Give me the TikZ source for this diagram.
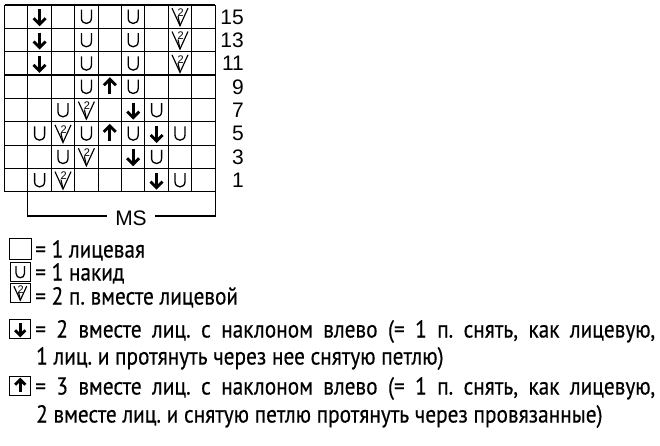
\documentclass[tikz,border=0pt]{standalone}
\usepackage{fontspec}
\setmainfont{Liberation Sans}
\newfontfamily\legfont[FakeStretch=0.87,FakeBold=0.4]{PT Sans}
\begin{document}
\frenchspacing
\begin{tikzpicture}[x=1pt,y=-1pt,
  gridline/.style={line width=1.1pt,draw=black},
  sym/.style={line width=1.3pt},
  arr/.style={line width=2.8pt},
  rownum/.style={font=\fontsize{21}{21}\selectfont, anchor=east, inner sep=0pt, text height=15pt, text depth=0pt},
  legtext/.style={font=\legfont\fontsize{24.5}{24.5}\selectfont, anchor=west, inner sep=0pt, text height=17pt, text depth=0pt},
  legbox/.style={draw, line width=1.1pt, minimum width=21pt, minimum height=19pt, inner sep=0pt},
  pics/yo/.style={code={\draw[sym] (-5,-7) -- (-5,1.5) .. controls (-5,8.5) and (5,8.5) .. (5,1.5) -- (5,-7);}},
  pics/ktog/.style={code={\draw[line width=1.15pt, line join=miter] (-8,-8.5) -- (0,9) -- (8,-8.5); \draw[line width=1.15pt] (0,9) -- (-2,-0.5); \node[inner sep=0pt, font=\fontsize{11}{11}\selectfont] at (0.6,-4.2) {2};}},
  pics/dn/.style={code={\draw[arr] (0,-7.5) -- (0,7); \draw[arr, line join=miter] (-6,1.5) -- (0,7.5) -- (6,1.5);}},
  pics/up/.style={code={\draw[arr] (0,7.5) -- (0,-7); \draw[arr, line join=miter] (-6,-1.5) -- (0,-7.5) -- (6,-1.5);}},
]
\useasboundingbox (0,0) rectangle (660,446);
% grid
\foreach \i in {0,...,9} \draw[gridline] ({4.5+23.4*\i},5) -- ({4.5+23.4*\i},191.8);
\foreach \j in {0,...,8} \draw[gridline] (4.5,{5+23.35*\j}) -- (215.1,{5+23.35*\j});
% symbols
\foreach \r/\c/\t in {0/1/dn,0/3/yo,0/5/yo,0/7/ktog,
  1/1/dn,1/3/yo,1/5/yo,1/7/ktog,
  2/1/dn,2/3/yo,2/5/yo,2/7/ktog,
  3/3/yo,3/4/up,3/5/yo,
  4/2/yo,4/3/ktog,4/5/dn,4/6/yo,
  5/1/yo,5/2/ktog,5/3/yo,5/4/up,5/5/yo,5/6/dn,5/7/yo,
  6/2/yo,6/3/ktog,6/5/dn,6/6/yo,
  7/1/yo,7/2/ktog,7/6/dn,7/7/yo}{
  \pgfmathsetmacro\cx{4.5+23.4*(\c+0.5)}
  \pgfmathsetmacro\cy{5+23.35*(\r+0.5)}
  \edef\tmp{\noexpand\pic at (\cx,\cy) {\t};}\tmp
}
% row numbers
\foreach \j/\n in {0/15,1/13,2/11,3/9,4/7,5/5,6/3,7/1}
  \node[rownum] (row\n) at (244,{5+23.35*(\j+0.5)}) {\n};
% MS bracket
\coordinate (bl) at (27.9,191.8);
\coordinate (br) at (215.1,191.8);
\coordinate (lm) at (107,216);
\coordinate (rm) at (155,216);
\node[font=\fontsize{21}{21}\selectfont, inner sep=0pt, text height=15pt, text depth=0pt] (ms) at (131,217.5) {MS};
\draw[gridline] (bl) -- (bl |- lm) -- (lm);
\draw[gridline] (rm) -- (br |- rm) -- (br);
% legend
\node[legbox, minimum width=22.5pt, minimum height=21pt] (kA) at (20.3,249) {};
\node[legbox, minimum width=20.5pt, minimum height=18.5pt] (kB) at (20.3,272) {};
\node[legbox, minimum width=20.5pt, minimum height=19pt] (kC) at (20.3,293) {};
\node[legbox] (kD) at (20.3,329) {};
\node[legbox] (kE) at (20.3,386) {};
\pic[scale=0.85] at (kB.center) {yo};
\pic[scale=0.8] at (kC.center) {ktog};
\pic[scale=0.85] at (kD.center) {dn};
\pic[scale=0.85] at (kE.center) {up};
\node[legtext] (tA) at (35,249) {= 1 лицевая};
\node[legtext] (tB) at (35,272) {= 1 накид};
\node[legtext] (tC) at (35,296) {= 2 п. вместе лицевой};
\node[legtext] (tD) at (35,329) {\makebox[620pt][s]{= 2 вместе лиц. с наклоном влево (= 1 п. снять, как лицевую,}};
\node[legtext] (tD2) at (36,356) {1 лиц. и протянуть через нее снятую петлю)};
\node[legtext] (tE) at (35,386) {\makebox[620pt][s]{= 3 вместе лиц. с наклоном влево (= 1 п. снять, как лицевую,}};
\node[legtext] (tE2) at (36,414) {2 вместе лиц. и снятую петлю протянуть через провязанные)};
\end{tikzpicture}
\end{document}
